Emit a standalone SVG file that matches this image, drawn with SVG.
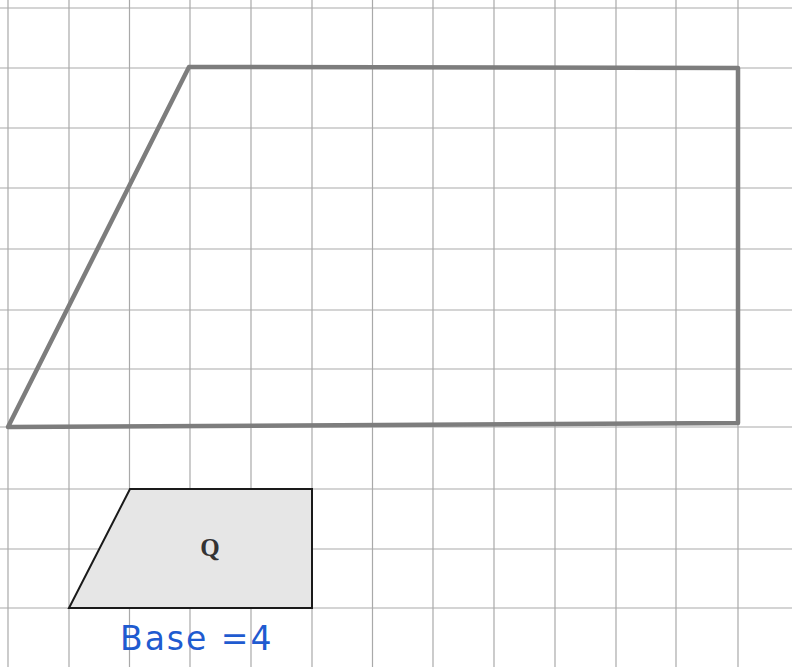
<svg xmlns="http://www.w3.org/2000/svg" width="792" height="667" viewBox="0 0 792 667">
<style>
.grid line{stroke:#a9a9a9;stroke-width:1.2}
.big{fill:none;stroke:#7d7d7d;stroke-width:4.5;stroke-linejoin:round}
.q{fill:#e6e6e6;stroke:#1a1a1a;stroke-width:2}
.lbl{font-family:"Liberation Serif",serif;font-weight:bold;font-size:25px;fill:#333}
.hand{font-family:"DejaVu Sans",sans-serif;font-size:33px;fill:#1f5bd0;letter-spacing:2px}
</style>
<rect width="792" height="667" fill="#ffffff"/>
<g class="grid" id="grid">
<line x1="8" y1="0" x2="8" y2="667"/>
<line x1="69" y1="0" x2="69" y2="667"/>
<line x1="129.5" y1="0" x2="129.5" y2="667"/>
<line x1="190" y1="0" x2="190" y2="667"/>
<line x1="251" y1="0" x2="251" y2="667"/>
<line x1="312" y1="0" x2="312" y2="667"/>
<line x1="372.5" y1="0" x2="372.5" y2="667"/>
<line x1="433" y1="0" x2="433" y2="667"/>
<line x1="494" y1="0" x2="494" y2="667"/>
<line x1="555" y1="0" x2="555" y2="667"/>
<line x1="616" y1="0" x2="616" y2="667"/>
<line x1="676" y1="0" x2="676" y2="667"/>
<line x1="738" y1="0" x2="738" y2="667"/>
<line x1="0" y1="8" x2="792" y2="8"/>
<line x1="0" y1="68" x2="792" y2="68"/>
<line x1="0" y1="128" x2="792" y2="128"/>
<line x1="0" y1="188" x2="792" y2="188"/>
<line x1="0" y1="249" x2="792" y2="249"/>
<line x1="0" y1="310" x2="792" y2="310"/>
<line x1="0" y1="369" x2="792" y2="369"/>
<line x1="0" y1="427" x2="792" y2="427"/>
<line x1="0" y1="489" x2="792" y2="489"/>
<line x1="0" y1="549" x2="792" y2="549"/>
<line x1="0" y1="608" x2="792" y2="608"/>
</g>
<g id="shape-large">
<polygon class="big" points="8,427 189,67 738,68 738,423"/>
</g>
<g id="shape-Q">
<polygon class="q" points="69,608 130,489 312,489 312,608"/>
<text class="lbl" x="210" y="556" text-anchor="middle">Q</text>
</g>
<g id="label-base">
<text class="hand" x="120" y="650">Base =4</text>
</g>
</svg>
